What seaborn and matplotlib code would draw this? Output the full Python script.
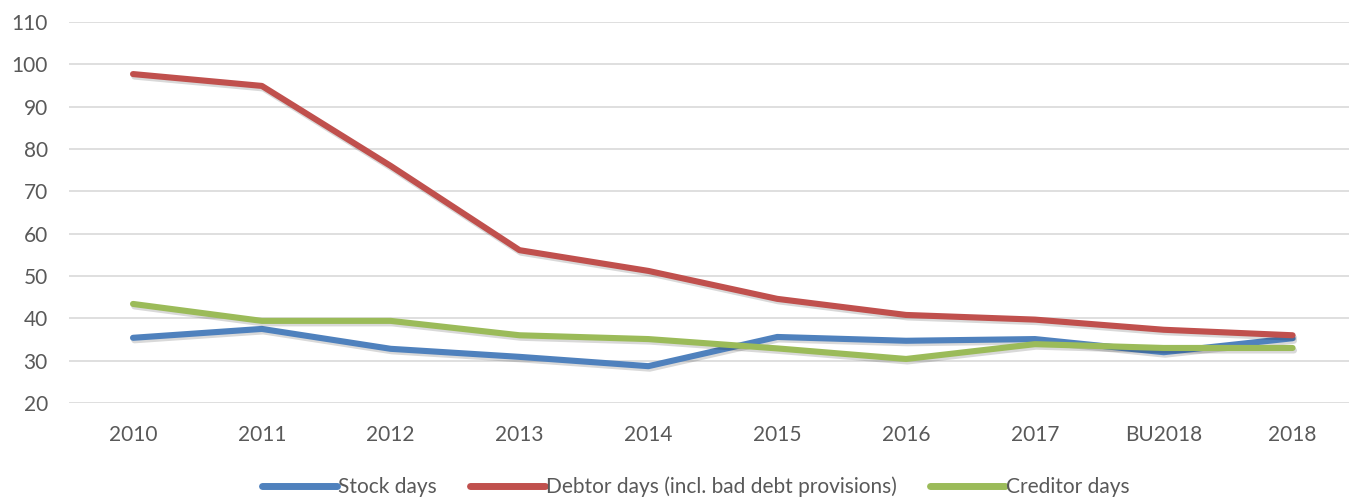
import matplotlib
matplotlib.use("Agg")
import matplotlib.pyplot as plt
import matplotlib.patheffects as pe
from matplotlib.lines import Line2D
import seaborn as sns
import pandas as pd

categories = ["2010", "2011", "2012", "2013", "2014", "2015", "2016", "2017", "BU2018", "2018"]
stock_days = [35.4, 37.5, 32.8, 30.9, 28.7, 35.6, 34.7, 35.1, 32.0, 35.3]
debtor_days = [97.7, 94.9, 76.0, 56.1, 51.2, 44.6, 40.8, 39.7, 37.3, 36.0]
creditor_days = [43.4, 39.4, 39.4, 36.0, 35.1, 32.9, 30.4, 33.9, 33.0, 33.0]
series_names = ["Stock days", "Debtor days (incl. bad debt provisions)", "Creditor days"]
colors = ["#4F81BD", "#C0504D", "#9BBB59"]

rows = []
for name, vals in zip(series_names, [stock_days, debtor_days, creditor_days]):
    for i, (c, v) in enumerate(zip(categories, vals)):
        rows.append({"idx": i, "cat": c, "series": name, "value": v})
df = pd.DataFrame(rows)

sns.set_theme(style="white")
plt.rcParams['font.family'] = ['Lato', 'DejaVu Sans']

fig = plt.figure(figsize=(13.49, 4.99), dpi=100)
ax = fig.add_axes([68.6 / 1349, 1 - 403 / 499, 1288.4 / 1349, 381 / 499])

sns.lineplot(data=df, x="idx", y="value", hue="series", hue_order=series_names,
             palette=colors, linewidth=4.4, ax=ax, legend=False, sort=False)
for line in ax.lines:
    line.set_solid_capstyle("round")
    line.set_solid_joinstyle("round")
    line.set_path_effects([pe.SimpleLineShadow(offset=(1.0, -1.8), alpha=0.15, shadow_color="black"),
                           pe.Normal()])

ax.set_xlim(-0.5, len(categories) - 0.5)
ax.set_ylim(20, 110)
ax.set_yticks(range(20, 111, 10))
ax.set_xticks(range(len(categories)))
ax.set_xticklabels(categories)
ax.yaxis.grid(True, color="#D9D9D9", linewidth=1.2)
ax.set_axisbelow(True)
for s in ax.spines.values():
    s.set_visible(False)
ax.tick_params(axis="both", length=0, labelsize=15, labelcolor="#595959")
ax.tick_params(axis="y", pad=15)
ax.tick_params(axis="x", pad=16)
ax.set_xlabel("")
ax.set_ylabel("")

handles = [Line2D([0], [0], color=c, linewidth=5, solid_capstyle="round") for c in colors]
fig.legend(handles, series_names, loc="center", bbox_to_anchor=(696 / 1349, 1 - 487 / 499),
           ncol=3, frameon=False, fontsize=15, labelcolor="#595959",
           handlelength=3.6, handletextpad=0.05, columnspacing=1.6)

fig.savefig("out.png", dpi=100)
